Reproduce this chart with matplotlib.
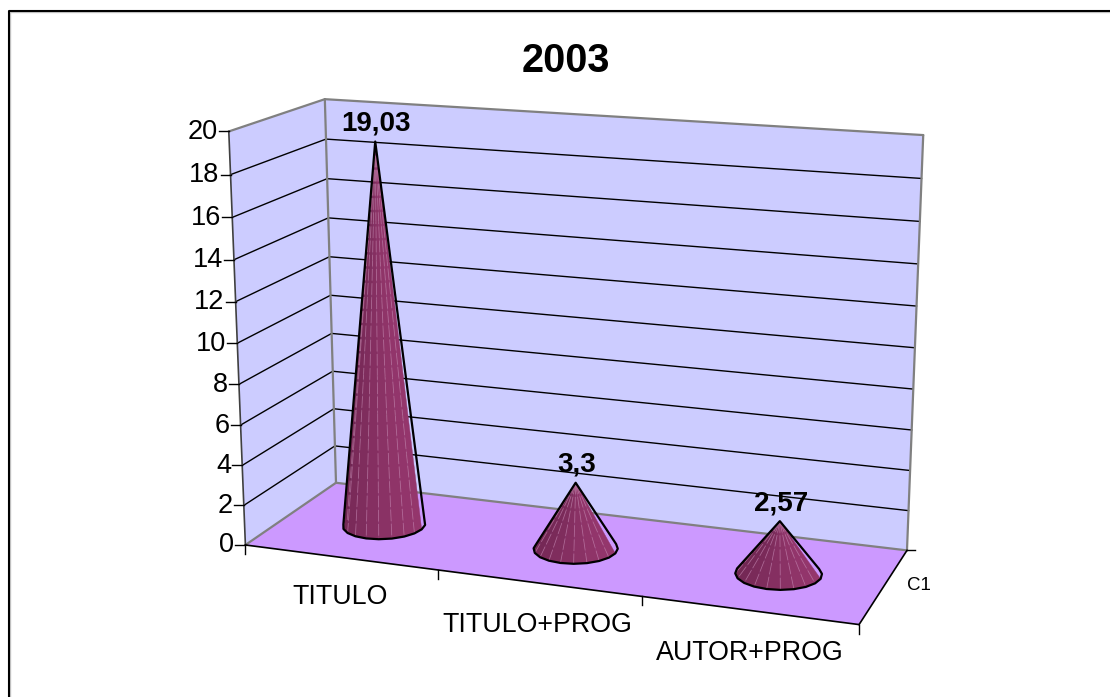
import numpy as np
import matplotlib
matplotlib.use("Agg")
import matplotlib.pyplot as plt
from matplotlib.patches import Polygon

plt.rcParams['font.family'] = ['Liberation Sans', 'DejaVu Sans']

categories = ['TITULO', 'TITULO+PROG', 'AUTOR+PROG']
values = [19.03, 3.3, 2.57]
value_labels = ['19,03', '3,3', '2,57']
y_ticks = [0, 2, 4, 6, 8, 10, 12, 14, 16, 18, 20]
series_name = 'C1'
title = '2003'

W, H = 1110, 697
WALL = '#CCCCFF'
FLOOR = '#CC99FF'
EDGE = '#808080'

# box corners (category, value, depth) and where they land on the picture
box_pts = [(0, 0, 0), (0, 20, 0), (0, 20, 1), (0, 0, 1), (3, 20, 1), (3, 0, 1), (3, 0, 0)]
box_px = [(244.7, 545), (229.3, 131.7), (324.3, 99), (336.7, 482.7),
          (923.3, 135), (906.7, 550.7), (859.3, 624.3)]


def fit_camera(pts, px):
    # plain DLT with last term fixed to 1
    A, b = [], []
    for (x, y, z), (u, v) in zip(pts, px):
        A.append([x, y, z, 1, 0, 0, 0, 0, -u * x, -u * y, -u * z])
        A.append([0, 0, 0, 0, x, y, z, 1, -v * x, -v * y, -v * z])
        b += [u, v]
    m = np.linalg.lstsq(np.array(A, float), np.array(b, float), rcond=None)[0]
    return np.append(m, 1).reshape(3, 4)


P = fit_camera(box_pts, box_px)


def proj(x, y, z):
    h = P @ np.array([x, y, z, 1.0])
    return h[0] / h[2], h[1] / h[2]


def hull(points):
    pts = sorted(set(points))
    def half(seq):
        out = []
        for p in seq:
            while len(out) > 1 and ((out[-1][0] - out[-2][0]) * (p[1] - out[-2][1])
                                    - (out[-1][1] - out[-2][1]) * (p[0] - out[-2][0])) <= 0:
                out.pop()
            out.append(p)
        return out[:-1]
    return half(pts) + half(pts[::-1])


def shade(t):
    # t goes 0 (left) to 1 (right) across the cone
    c0 = np.array([0x94, 0x36, 0x6C]) / 255
    c1 = np.array([0x70, 0x26, 0x52]) / 255
    return tuple(c0 + (c1 - c0) * t)


def draw_cone(ax, cx, val, label, r=0.2, rz=0.21, n=20):
    cz = 0.49
    tip = proj(cx, val, cz)
    ang = np.linspace(0, 2 * np.pi, n + 1)
    base = [proj(cx + r * np.cos(a), 0, cz + rz * np.sin(a)) for a in ang]
    # only the front half shows, back to front from the sides
    order = [i for i in range(n) if np.sin(ang[i] + np.pi / n) < 0.15]
    order.sort(key=lambda i: -np.sin(ang[i] + np.pi / n), reverse=True)
    for i in order:
        mid = np.cos(ang[i] + np.pi / n)
        col = shade((1 - mid) / 2)
        ax.add_patch(Polygon([tip, base[i], base[i + 1]], closed=True,
                             fc=col, ec=col, lw=0.3, zorder=5))
    for i in order:
        ax.plot([tip[0], base[i][0]], [tip[1], base[i][1]], color='#C080A8', lw=0.6,
                alpha=0.65, dashes=(14, 3), zorder=5.5)
    ax.add_patch(Polygon(hull([(round(a, 2), round(b, 2)) for a, b in base] + [tip]),
                         closed=True, fc='none', ec='black', lw=1.6, joinstyle='round', zorder=6))
    ax.text(tip[0] + 1, tip[1] - 5, label, ha='center', va='bottom', fontsize=20,
            fontweight='bold', color='black', zorder=7)


fig = plt.figure(figsize=(W / 100, H / 100), dpi=100)
ax = fig.add_axes([0, 0, 1, 1])
ax.set_xlim(0, W)
ax.set_ylim(H, 0)
ax.axis('off')

# chart frame, only left and top fall inside the picture
ax.plot([10, 10, W], [H, 12, 12], color='#C8C8C8', lw=1, zorder=0)
ax.plot([8.5, 8.5, W], [H, 10.5, 10.5], color='black', lw=1.5, zorder=0)
ax.text(566, 61, title, ha='center', va='center', fontsize=28.5, fontweight='bold')

# walls and floor
ymax = y_ticks[-1]
ax.add_patch(Polygon([proj(0, 0, 0), proj(0, ymax, 0), proj(0, ymax, 1), proj(0, 0, 1)],
                     fc=WALL, ec='none', zorder=1))
ax.add_patch(Polygon([proj(0, 0, 1), proj(0, ymax, 1), proj(3, ymax, 1), proj(3, 0, 1)],
                     fc=WALL, ec='none', zorder=1))
ax.add_patch(Polygon([proj(0, 0, 0), proj(0, 0, 1), proj(3, 0, 1), proj(3, 0, 0)],
                     fc=FLOOR, ec='none', zorder=1))

# gridlines
for v in y_ticks[1:-1]:
    a, b, c = proj(0, v, 0), proj(0, v, 1), proj(3, v, 1)
    ax.plot([a[0], b[0], c[0]], [a[1], b[1], c[1]], color='black', lw=1, zorder=2)

# grey wall edges
for p, q in [((0, ymax, 0), (0, ymax, 1)), ((0, ymax, 1), (3, ymax, 1)), ((3, ymax, 1), (3, 0, 1)),
             ((0, ymax, 1), (0, 0, 1)), ((0, 0, 1), (3, 0, 1)), ((0, 0, 0), (0, 0, 1))]:
    a, b = proj(*p), proj(*q)
    ax.plot([a[0], b[0]], [a[1], b[1]], color=EDGE, lw=1.6, zorder=3, solid_capstyle='round')

# black axes
a, b = proj(0, 0, 0), proj(0, ymax, 0)
ax.plot([a[0], b[0]], [a[1], b[1]], color='#404040', lw=1.2, zorder=3)
a, b = proj(0, 0, 0), proj(3, 0, 0)
ax.plot([a[0], b[0]], [a[1], b[1]], color='black', lw=1.2, zorder=3)
a, b = proj(3, 0, 0), proj(3, 0, 1)
ax.plot([a[0], b[0]], [a[1], b[1]], color='black', lw=1.2, zorder=3)

# value axis ticks and labels
for v in y_ticks:
    x0, y0 = proj(0, v, 0)
    ax.plot([x0 - 10, x0], [y0, y0], color='black', lw=1, zorder=3)
    ax.text(x0 - 11, y0 + 0.5, str(v), ha='right', va='center', fontsize=19.5)

# category ticks and labels
for i in range(len(categories) + 1):
    x0, y0 = proj(i, 0, 0)
    ax.plot([x0, x0], [y0, y0 + 9], color='black', lw=1, zorder=3)
label_px = [(340, 597), (537, 625), (750, 653)]
for name, (lx, ly) in zip(categories, label_px):
    ax.text(lx, ly, name, ha='center', va='center', fontsize=19.3)

# depth axis tick and series name
x0, y0 = proj(3, 0, 1)
ax.plot([x0, x0 + 8], [y0, y0], color='black', lw=1, zorder=3)
ax.text(919, 586, series_name, ha='center', va='center', fontsize=13.5)

for i, (val, lab) in enumerate(zip(values, value_labels)):
    draw_cone(ax, i + 0.505, val, lab)

fig.savefig('out.png', dpi=100)
